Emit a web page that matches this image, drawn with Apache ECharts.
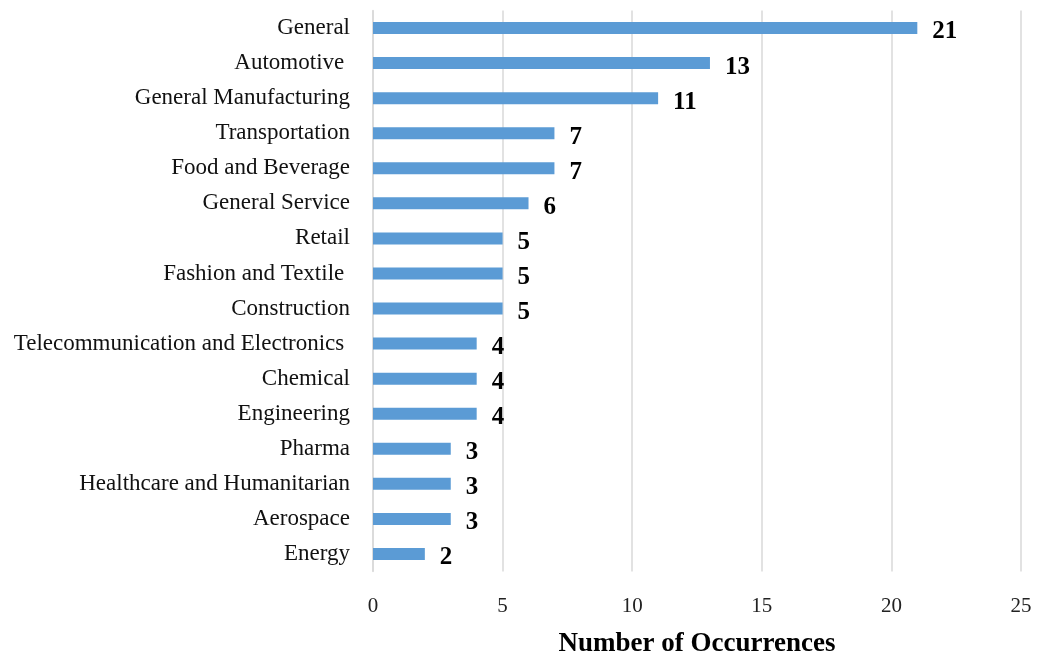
<!DOCTYPE html>
<html>
<head>
<meta charset="utf-8">
<script src="https://cdn.jsdelivr.net/npm/echarts@6/dist/echarts.min.js"></script>
<style>
  html, body { margin: 0; padding: 0; background: #ffffff; }
  #chart { width: 1043px; height: 655px; }
</style>
</head>
<body>
<div id="chart"></div>
<script>
// Industry sectors, listed top to bottom
const sectors = [
  'General', 'Automotive ', 'General Manufacturing', 'Transportation',
  'Food and Beverage', 'General Service', 'Retail', 'Fashion and Textile ',
  'Construction', 'Telecommunication and Electronics ', 'Chemical',
  'Engineering', 'Pharma', 'Healthcare and Humanitarian', 'Aerospace', 'Energy'
];
// Number of occurrences per sector
const occurrences = [21, 13, 11, 7, 7, 6, 5, 5, 5, 4, 4, 4, 3, 3, 3, 2];
const axisTitle = 'Number of Occurrences';

const serif = '"Liberation Serif", "DejaVu Serif", serif';

const chart = echarts.init(document.getElementById('chart'), null, { renderer: 'canvas' });
chart.setOption({
  animation: false,
  backgroundColor: '#ffffff',
  grid: {
    left: 373, right: 22, top: 10.5, bottom: 83.5,
    containLabel: false,
    outerBoundsMode: 'none'
  },
  xAxis: {
    type: 'value',
    min: 0, max: 25, interval: 5,
    name: axisTitle,
    nameLocation: 'middle',
    nameGap: 59,
    nameTextStyle: { fontFamily: serif, fontSize: 27, fontWeight: 'bold', color: '#000' },
    axisLine: { show: false },
    axisTick: { show: false },
    axisLabel: { fontFamily: serif, fontSize: 21, color: '#222', margin: 24 },
    splitLine: { lineStyle: { color: '#d9d9d9', width: 1.5 } }
  },
  yAxis: {
    type: 'category',
    inverse: true,
    data: sectors,
    axisLine: { lineStyle: { color: '#d9d9d9', width: 1.5 } },
    axisTick: { show: false },
    axisLabel: { fontFamily: serif, fontSize: 23, color: '#111', margin: 23, padding: [9, 0, 0, 0] }
  },
  series: [{
    type: 'bar',
    data: occurrences,
    barWidth: 12,
    itemStyle: { color: '#5b9bd5' },
    label: {
      show: true,
      position: 'right',
      distance: 15,
      offset: [0, 4],
      fontFamily: serif,
      fontSize: 25,
      fontWeight: 'bold',
      color: '#000'
    }
  }]
});
</script>
</body>
</html>
